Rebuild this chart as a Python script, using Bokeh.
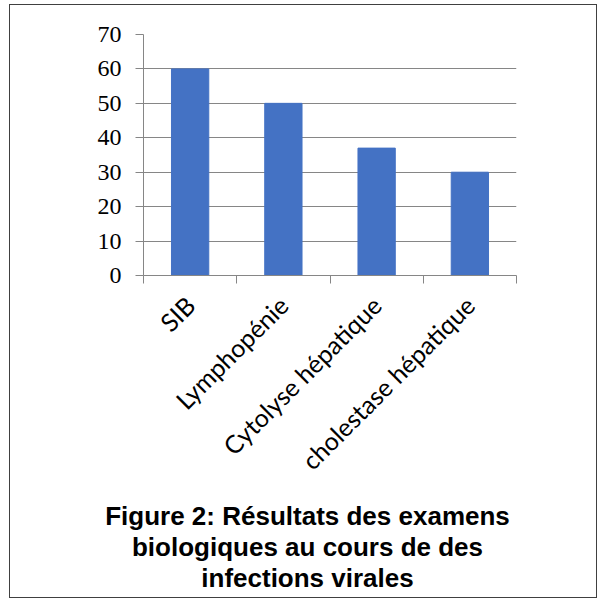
import math
from bokeh.plotting import figure
from bokeh.models import FixedTicker, Range1d, ColumnDataSource
from bokeh.layouts import column
from bokeh.core.properties import value
from bokeh.embed import file_html
from bokeh.resources import INLINE

categories = ["SIB", "Lymphopénie", "Cytolyse hépatique", "cholestase hépatique"]
values = [60, 50, 37, 30]
y_ticks = [0, 10, 20, 30, 40, 50, 60, 70]
title_lines = [
    "Figure 2: Résultats des examens",
    "biologiques au cours de des",
    "infections virales",
]

W = 586
CHART_H = 487
TITLE_H = 105
grey = "#868686"

xs = list(range(len(categories)))
bounds = [i - 0.5 for i in range(len(categories) + 1)]

p = figure(width=W, height=CHART_H, x_range=Range1d(-0.5, len(categories) - 0.5),
           y_range=Range1d(0, 70), output_backend="svg", toolbar_location=None,
           min_border_left=133, min_border_right=80, min_border_top=29,
           min_border_bottom=CHART_H - 29 - 241)
p.frame_align = False
p.outline_line_color = None
p.background_fill_color = "white"
p.border_fill_color = "white"

p.vbar(x=xs, top=values, width=0.4, color="#4472C4")

# x axis: labels at category centres, ticks at category boundaries
p.xaxis.ticker = FixedTicker(ticks=xs, minor_ticks=bounds)
p.xaxis.major_label_overrides = {i: c for i, c in zip(xs, categories)}
p.xaxis.major_label_orientation = math.pi / 4
p.xaxis.major_tick_line_color = None
p.xaxis.major_tick_out = 8
p.xaxis.major_tick_in = 0
p.xaxis.minor_tick_line_color = grey
p.xaxis.minor_tick_out = 8
p.xaxis.minor_tick_in = 0
p.xaxis.axis_line_color = grey
p.xaxis.major_label_text_font = "Lato"
p.xaxis.major_label_text_font_size = "25px"
p.xaxis.major_label_text_color = "black"
p.xaxis.major_label_standoff = 17
p.xgrid.grid_line_color = None

# y axis
p.yaxis.ticker = FixedTicker(ticks=y_ticks)
p.yaxis.major_tick_out = 8
p.yaxis.major_tick_in = 0
p.yaxis.major_tick_line_color = grey
p.yaxis.minor_tick_line_color = None
p.yaxis.axis_line_color = grey
p.yaxis.major_label_text_font = "Liberation Serif"
p.yaxis.major_label_text_font_size = "24px"
p.yaxis.major_label_text_color = "black"
p.yaxis.major_label_standoff = 14
p.ygrid.ticker = FixedTicker(ticks=y_ticks)
p.ygrid.grid_line_color = grey
p.ygrid.grid_line_width = 1

# caption below the chart
t = figure(width=W, height=TITLE_H, x_range=Range1d(0, W), y_range=Range1d(0, TITLE_H),
           output_backend="svg", toolbar_location=None, min_border=0)
t.frame_align = False
t.axis.visible = False
t.grid.grid_line_color = None
t.outline_line_color = None
t.background_fill_color = "white"
t.border_fill_color = "white"
line_gap = 31
src = ColumnDataSource(dict(
    x=[W / 2 + 4] * len(title_lines),
    y=[TITLE_H - 23 - line_gap * i for i in range(len(title_lines))],
    text=title_lines,
))
t.text(x="x", y="y", text="text", source=src, text_align="center",
       text_baseline="alphabetic", text_font=value("Liberation Sans"),
       text_font_style="bold", text_font_size="26px", text_color="black")

layout = column(p, t, spacing=0,
                styles={"border": "1px solid #404040", "margin-left": "9px",
                        "margin-top": "4px"})

open("out.html", "w").write(file_html(layout, INLINE))
